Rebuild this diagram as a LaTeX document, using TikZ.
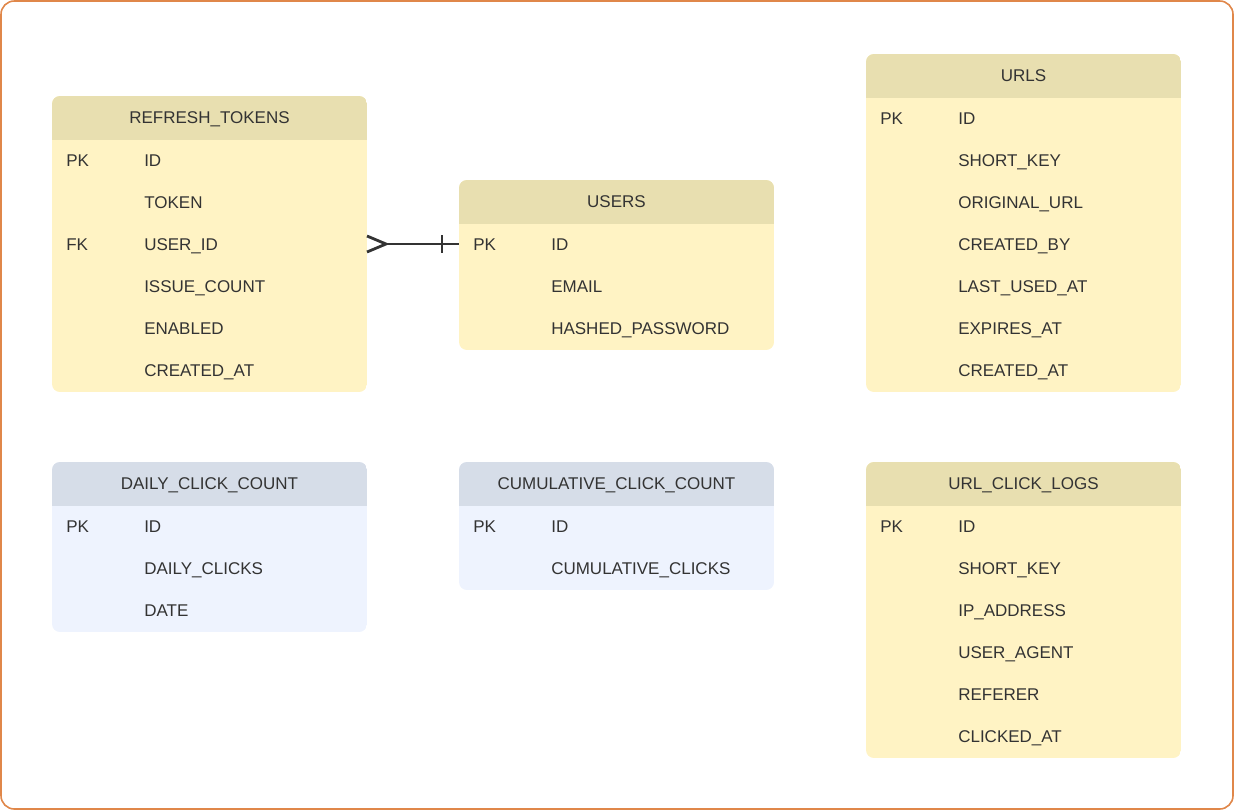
\documentclass[tikz,border=0pt]{standalone}
\usepackage{fontspec}
\setmainfont{Liberation Sans}
\usepackage{tikz}
\usetikzlibrary{calc}
\usetikzlibrary{arrows.meta}

\definecolor{yelhead}{HTML}{E8DFB0}
\definecolor{yelbody}{HTML}{FFF3C4}
\definecolor{bluhead}{HTML}{D6DDE8}
\definecolor{blubody}{HTML}{EEF3FE}
\definecolor{inkgray}{HTML}{333333}
\definecolor{frameorange}{HTML}{E0874A}

\tikzset{
  tabtitle/.style={inner sep=0pt, anchor=base, text=inkgray, font=\fontsize{12.75}{15}\selectfont},
  keytext/.style={inner sep=0pt, anchor=base west, text=inkgray, font=\fontsize{12.75}{15}\selectfont},
  fieldtext/.style={inner sep=0pt, anchor=base west, text=inkgray, font=\fontsize{12.75}{15}\selectfont},
  relline/.style={draw=inkgray, line width=2.1pt},
}

% #1 name, #2 left, #3 top, #4 title, #5 colour prefix, #6 number of rows, #7 key/field rows
\newcommand{\erdtable}[7]{
  \begin{scope}
    \clip[rounded corners=6] (#2,#3) rectangle ++(315,44+42*#6);
    \fill[#5body] (#2,#3) rectangle ++(315,44+42*#6);
    \fill[#5head] (#2,#3) rectangle ++(315,44);
  \end{scope}
  \node[tabtitle] (#1) at (#2+157.5,#3+27) {#4};
  \foreach \k/\f [count=\i] in {#7} {
    \coordinate (#1-w\i) at (#2,#3+64+42*\i-42);
    \coordinate (#1-e\i) at (#2+315,#3+64+42*\i-42);
    \if\relax\detokenize\expandafter{\k}\relax\else
      \node[keytext] (#1-k\i) at (#2+14,#3+70+42*\i-42) {\k};
    \fi
    \node[fieldtext] (#1-\i) at (#2+92,#3+70+42*\i-42) {\f};
  }
}

\begin{document}
\begin{tikzpicture}[x=0.75pt,y=-0.75pt]
  \useasboundingbox (0,0) rectangle (1234,810);
  \draw[frameorange, line width=1.2pt, rounded corners=10] (1,1) rectangle (1233,809);

  \erdtable{refresh}{52}{96}{REFRESH\_TOKENS}{yel}{6}{PK/ID, /TOKEN, FK/USER\_ID, /ISSUE\_COUNT, /ENABLED, /CREATED\_AT}
  \erdtable{users}{459}{180}{USERS}{yel}{3}{PK/ID, /EMAIL, /HASHED\_PASSWORD}
  \erdtable{urls}{866}{54}{URLS}{yel}{7}{PK/ID, /SHORT\_KEY, /ORIGINAL\_URL, /CREATED\_BY, /LAST\_USED\_AT, /EXPIRES\_AT, /CREATED\_AT}
  \erdtable{daily}{52}{462}{DAILY\_CLICK\_COUNT}{blu}{3}{PK/ID, /DAILY\_CLICKS, /DATE}
  \erdtable{cumul}{459}{462}{CUMULATIVE\_CLICK\_COUNT}{blu}{2}{PK/ID, /CUMULATIVE\_CLICKS}
  \erdtable{clicklogs}{866}{462}{URL\_CLICK\_LOGS}{yel}{6}{PK/ID, /SHORT\_KEY, /IP\_ADDRESS, /USER\_AGENT, /REFERER, /CLICKED\_AT}

  % many refresh tokens to one user
  \coordinate (crowtip) at ($(refresh-e3)+(19,0)$);
  \draw[relline] ($(refresh-e3)+(0,-8)$) -- (crowtip) -- ($(refresh-e3)+(0,8)$);
  \draw[relline] (crowtip) -- (users-w1);
  \draw[relline] ($(users-w1)+(-17,-9)$) -- ($(users-w1)+(-17,9)$);
\end{tikzpicture}
\end{document}
